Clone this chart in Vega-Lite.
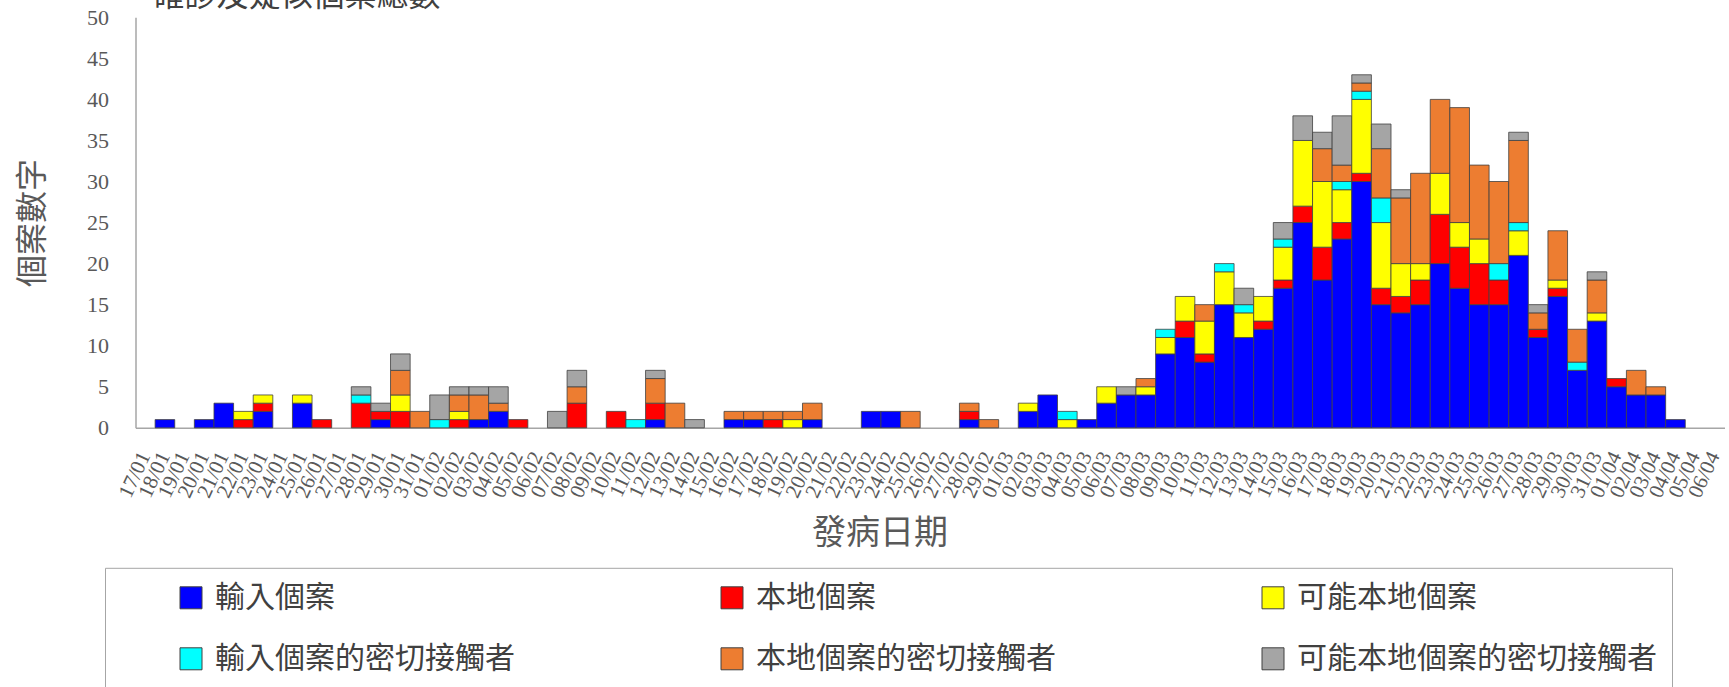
{
  "$schema": "https://vega.github.io/schema/vega-lite/v6.json",
  "autosize": "none",
  "width": 1589,
  "height": 410.5,
  "padding": {"left": 135.5, "top": 17.3, "right": 4.5, "bottom": 259.2},
  "background": "white",
  "title": {"text": "確診及疑似個案總數", "anchor": "start", "frame": "group", "font": "Noto Sans CJK TC", "fontSize": 32, "fontWeight": "normal", "color": "#404040", "baseline": "alphabetic", "offset": -32, "dx": 17},
  "datasets": {
    "cats": [
      {"c": "輸入個案", "k": 1},
      {"c": "本地個案", "k": 2},
      {"c": "可能本地個案", "k": 3},
      {"c": "輸入個案的密切接觸者", "k": 4},
      {"c": "本地個案的密切接觸者", "k": 5},
      {"c": "可能本地個案的密切接觸者", "k": 6}
    ],
    "cases": [
      {"d": "18/01", "c": "輸入個案", "n": 1},
      {"d": "20/01", "c": "輸入個案", "n": 1},
      {"d": "21/01", "c": "輸入個案", "n": 3},
      {"d": "22/01", "c": "本地個案", "n": 1},
      {"d": "22/01", "c": "可能本地個案", "n": 1},
      {"d": "23/01", "c": "輸入個案", "n": 2},
      {"d": "23/01", "c": "本地個案", "n": 1},
      {"d": "23/01", "c": "可能本地個案", "n": 1},
      {"d": "25/01", "c": "輸入個案", "n": 3},
      {"d": "25/01", "c": "可能本地個案", "n": 1},
      {"d": "26/01", "c": "本地個案", "n": 1},
      {"d": "28/01", "c": "本地個案", "n": 3},
      {"d": "28/01", "c": "輸入個案的密切接觸者", "n": 1},
      {"d": "28/01", "c": "可能本地個案的密切接觸者", "n": 1},
      {"d": "29/01", "c": "輸入個案", "n": 1},
      {"d": "29/01", "c": "本地個案", "n": 1},
      {"d": "29/01", "c": "可能本地個案的密切接觸者", "n": 1},
      {"d": "30/01", "c": "本地個案", "n": 2},
      {"d": "30/01", "c": "可能本地個案", "n": 2},
      {"d": "30/01", "c": "本地個案的密切接觸者", "n": 3},
      {"d": "30/01", "c": "可能本地個案的密切接觸者", "n": 2},
      {"d": "31/01", "c": "本地個案的密切接觸者", "n": 2},
      {"d": "01/02", "c": "輸入個案的密切接觸者", "n": 1},
      {"d": "01/02", "c": "可能本地個案的密切接觸者", "n": 3},
      {"d": "02/02", "c": "本地個案", "n": 1},
      {"d": "02/02", "c": "可能本地個案", "n": 1},
      {"d": "02/02", "c": "本地個案的密切接觸者", "n": 2},
      {"d": "02/02", "c": "可能本地個案的密切接觸者", "n": 1},
      {"d": "03/02", "c": "輸入個案", "n": 1},
      {"d": "03/02", "c": "本地個案的密切接觸者", "n": 3},
      {"d": "03/02", "c": "可能本地個案的密切接觸者", "n": 1},
      {"d": "04/02", "c": "輸入個案", "n": 2},
      {"d": "04/02", "c": "本地個案的密切接觸者", "n": 1},
      {"d": "04/02", "c": "可能本地個案的密切接觸者", "n": 2},
      {"d": "05/02", "c": "本地個案", "n": 1},
      {"d": "07/02", "c": "可能本地個案的密切接觸者", "n": 2},
      {"d": "08/02", "c": "本地個案", "n": 3},
      {"d": "08/02", "c": "本地個案的密切接觸者", "n": 2},
      {"d": "08/02", "c": "可能本地個案的密切接觸者", "n": 2},
      {"d": "10/02", "c": "本地個案", "n": 2},
      {"d": "11/02", "c": "輸入個案的密切接觸者", "n": 1},
      {"d": "12/02", "c": "輸入個案", "n": 1},
      {"d": "12/02", "c": "本地個案", "n": 2},
      {"d": "12/02", "c": "本地個案的密切接觸者", "n": 3},
      {"d": "12/02", "c": "可能本地個案的密切接觸者", "n": 1},
      {"d": "13/02", "c": "本地個案的密切接觸者", "n": 3},
      {"d": "14/02", "c": "可能本地個案的密切接觸者", "n": 1},
      {"d": "16/02", "c": "輸入個案", "n": 1},
      {"d": "16/02", "c": "本地個案的密切接觸者", "n": 1},
      {"d": "17/02", "c": "輸入個案", "n": 1},
      {"d": "17/02", "c": "本地個案的密切接觸者", "n": 1},
      {"d": "18/02", "c": "本地個案", "n": 1},
      {"d": "18/02", "c": "本地個案的密切接觸者", "n": 1},
      {"d": "19/02", "c": "可能本地個案", "n": 1},
      {"d": "19/02", "c": "本地個案的密切接觸者", "n": 1},
      {"d": "20/02", "c": "輸入個案", "n": 1},
      {"d": "20/02", "c": "本地個案的密切接觸者", "n": 2},
      {"d": "23/02", "c": "輸入個案", "n": 2},
      {"d": "24/02", "c": "輸入個案", "n": 2},
      {"d": "25/02", "c": "本地個案的密切接觸者", "n": 2},
      {"d": "28/02", "c": "輸入個案", "n": 1},
      {"d": "28/02", "c": "本地個案", "n": 1},
      {"d": "28/02", "c": "本地個案的密切接觸者", "n": 1},
      {"d": "29/02", "c": "本地個案的密切接觸者", "n": 1},
      {"d": "02/03", "c": "輸入個案", "n": 2},
      {"d": "02/03", "c": "可能本地個案", "n": 1},
      {"d": "03/03", "c": "輸入個案", "n": 4},
      {"d": "04/03", "c": "可能本地個案", "n": 1},
      {"d": "04/03", "c": "輸入個案的密切接觸者", "n": 1},
      {"d": "05/03", "c": "輸入個案", "n": 1},
      {"d": "06/03", "c": "輸入個案", "n": 3},
      {"d": "06/03", "c": "可能本地個案", "n": 2},
      {"d": "07/03", "c": "輸入個案", "n": 4},
      {"d": "07/03", "c": "可能本地個案的密切接觸者", "n": 1},
      {"d": "08/03", "c": "輸入個案", "n": 4},
      {"d": "08/03", "c": "可能本地個案", "n": 1},
      {"d": "08/03", "c": "本地個案的密切接觸者", "n": 1},
      {"d": "09/03", "c": "輸入個案", "n": 9},
      {"d": "09/03", "c": "可能本地個案", "n": 2},
      {"d": "09/03", "c": "輸入個案的密切接觸者", "n": 1},
      {"d": "10/03", "c": "輸入個案", "n": 11},
      {"d": "10/03", "c": "本地個案", "n": 2},
      {"d": "10/03", "c": "可能本地個案", "n": 3},
      {"d": "11/03", "c": "輸入個案", "n": 8},
      {"d": "11/03", "c": "本地個案", "n": 1},
      {"d": "11/03", "c": "可能本地個案", "n": 4},
      {"d": "11/03", "c": "本地個案的密切接觸者", "n": 2},
      {"d": "12/03", "c": "輸入個案", "n": 15},
      {"d": "12/03", "c": "可能本地個案", "n": 4},
      {"d": "12/03", "c": "輸入個案的密切接觸者", "n": 1},
      {"d": "13/03", "c": "輸入個案", "n": 11},
      {"d": "13/03", "c": "可能本地個案", "n": 3},
      {"d": "13/03", "c": "輸入個案的密切接觸者", "n": 1},
      {"d": "13/03", "c": "可能本地個案的密切接觸者", "n": 2},
      {"d": "14/03", "c": "輸入個案", "n": 12},
      {"d": "14/03", "c": "本地個案", "n": 1},
      {"d": "14/03", "c": "可能本地個案", "n": 3},
      {"d": "15/03", "c": "輸入個案", "n": 17},
      {"d": "15/03", "c": "本地個案", "n": 1},
      {"d": "15/03", "c": "可能本地個案", "n": 4},
      {"d": "15/03", "c": "輸入個案的密切接觸者", "n": 1},
      {"d": "15/03", "c": "可能本地個案的密切接觸者", "n": 2},
      {"d": "16/03", "c": "輸入個案", "n": 25},
      {"d": "16/03", "c": "本地個案", "n": 2},
      {"d": "16/03", "c": "可能本地個案", "n": 8},
      {"d": "16/03", "c": "可能本地個案的密切接觸者", "n": 3},
      {"d": "17/03", "c": "輸入個案", "n": 18},
      {"d": "17/03", "c": "本地個案", "n": 4},
      {"d": "17/03", "c": "可能本地個案", "n": 8},
      {"d": "17/03", "c": "本地個案的密切接觸者", "n": 4},
      {"d": "17/03", "c": "可能本地個案的密切接觸者", "n": 2},
      {"d": "18/03", "c": "輸入個案", "n": 23},
      {"d": "18/03", "c": "本地個案", "n": 2},
      {"d": "18/03", "c": "可能本地個案", "n": 4},
      {"d": "18/03", "c": "輸入個案的密切接觸者", "n": 1},
      {"d": "18/03", "c": "本地個案的密切接觸者", "n": 2},
      {"d": "18/03", "c": "可能本地個案的密切接觸者", "n": 6},
      {"d": "19/03", "c": "輸入個案", "n": 30},
      {"d": "19/03", "c": "本地個案", "n": 1},
      {"d": "19/03", "c": "可能本地個案", "n": 9},
      {"d": "19/03", "c": "輸入個案的密切接觸者", "n": 1},
      {"d": "19/03", "c": "本地個案的密切接觸者", "n": 1},
      {"d": "19/03", "c": "可能本地個案的密切接觸者", "n": 1},
      {"d": "20/03", "c": "輸入個案", "n": 15},
      {"d": "20/03", "c": "本地個案", "n": 2},
      {"d": "20/03", "c": "可能本地個案", "n": 8},
      {"d": "20/03", "c": "輸入個案的密切接觸者", "n": 3},
      {"d": "20/03", "c": "本地個案的密切接觸者", "n": 6},
      {"d": "20/03", "c": "可能本地個案的密切接觸者", "n": 3},
      {"d": "21/03", "c": "輸入個案", "n": 14},
      {"d": "21/03", "c": "本地個案", "n": 2},
      {"d": "21/03", "c": "可能本地個案", "n": 4},
      {"d": "21/03", "c": "本地個案的密切接觸者", "n": 8},
      {"d": "21/03", "c": "可能本地個案的密切接觸者", "n": 1},
      {"d": "22/03", "c": "輸入個案", "n": 15},
      {"d": "22/03", "c": "本地個案", "n": 3},
      {"d": "22/03", "c": "可能本地個案", "n": 2},
      {"d": "22/03", "c": "本地個案的密切接觸者", "n": 11},
      {"d": "23/03", "c": "輸入個案", "n": 20},
      {"d": "23/03", "c": "本地個案", "n": 6},
      {"d": "23/03", "c": "可能本地個案", "n": 5},
      {"d": "23/03", "c": "本地個案的密切接觸者", "n": 9},
      {"d": "24/03", "c": "輸入個案", "n": 17},
      {"d": "24/03", "c": "本地個案", "n": 5},
      {"d": "24/03", "c": "可能本地個案", "n": 3},
      {"d": "24/03", "c": "本地個案的密切接觸者", "n": 14},
      {"d": "25/03", "c": "輸入個案", "n": 15},
      {"d": "25/03", "c": "本地個案", "n": 5},
      {"d": "25/03", "c": "可能本地個案", "n": 3},
      {"d": "25/03", "c": "本地個案的密切接觸者", "n": 9},
      {"d": "26/03", "c": "輸入個案", "n": 15},
      {"d": "26/03", "c": "本地個案", "n": 3},
      {"d": "26/03", "c": "輸入個案的密切接觸者", "n": 2},
      {"d": "26/03", "c": "本地個案的密切接觸者", "n": 10},
      {"d": "27/03", "c": "輸入個案", "n": 21},
      {"d": "27/03", "c": "可能本地個案", "n": 3},
      {"d": "27/03", "c": "輸入個案的密切接觸者", "n": 1},
      {"d": "27/03", "c": "本地個案的密切接觸者", "n": 10},
      {"d": "27/03", "c": "可能本地個案的密切接觸者", "n": 1},
      {"d": "28/03", "c": "輸入個案", "n": 11},
      {"d": "28/03", "c": "本地個案", "n": 1},
      {"d": "28/03", "c": "本地個案的密切接觸者", "n": 2},
      {"d": "28/03", "c": "可能本地個案的密切接觸者", "n": 1},
      {"d": "29/03", "c": "輸入個案", "n": 16},
      {"d": "29/03", "c": "本地個案", "n": 1},
      {"d": "29/03", "c": "可能本地個案", "n": 1},
      {"d": "29/03", "c": "本地個案的密切接觸者", "n": 6},
      {"d": "30/03", "c": "輸入個案", "n": 7},
      {"d": "30/03", "c": "輸入個案的密切接觸者", "n": 1},
      {"d": "30/03", "c": "本地個案的密切接觸者", "n": 4},
      {"d": "31/03", "c": "輸入個案", "n": 13},
      {"d": "31/03", "c": "可能本地個案", "n": 1},
      {"d": "31/03", "c": "本地個案的密切接觸者", "n": 4},
      {"d": "31/03", "c": "可能本地個案的密切接觸者", "n": 1},
      {"d": "01/04", "c": "輸入個案", "n": 5},
      {"d": "01/04", "c": "本地個案", "n": 1},
      {"d": "02/04", "c": "輸入個案", "n": 4},
      {"d": "02/04", "c": "本地個案的密切接觸者", "n": 3},
      {"d": "03/04", "c": "輸入個案", "n": 4},
      {"d": "03/04", "c": "本地個案的密切接觸者", "n": 1},
      {"d": "04/04", "c": "輸入個案", "n": 1}
    ]
  },
  "data": {"name": "cases"},
  "transform": [
    {"lookup": "c", "from": {"data": {"name": "cats"}, "key": "c", "fields": ["k"]}}
  ],
  "mark": {"type": "bar", "stroke": "#404040", "strokeWidth": 0.8},
  "encoding": {
    "x": {
      "field": "d",
      "type": "ordinal",
      "title": "發病日期",
      "scale": {
        "domain": ["17/01","18/01","19/01","20/01","21/01","22/01","23/01","24/01","25/01","26/01","27/01","28/01","29/01","30/01","31/01",
          "01/02","02/02","03/02","04/02","05/02","06/02","07/02","08/02","09/02","10/02","11/02","12/02","13/02","14/02","15/02","16/02","17/02","18/02","19/02","20/02","21/02","22/02","23/02","24/02","25/02","26/02","27/02","28/02","29/02",
          "01/03","02/03","03/03","04/03","05/03","06/03","07/03","08/03","09/03","10/03","11/03","12/03","13/03","14/03","15/03","16/03","17/03","18/03","19/03","20/03","21/03","22/03","23/03","24/03","25/03","26/03","27/03","28/03","29/03","30/03","31/03",
          "01/04","02/04","03/04","04/04","05/04","06/04"],
        "paddingInner": 0,
        "paddingOuter": 0
      },
      "axis": {
        "labelAngle": -65,
        "labelFont": "Liberation Serif",
        "labelFontSize": 21,
        "labelColor": "#595959",
        "labelPadding": 25,
        "labelOverlap": false,
        "ticks": false,
        "domainColor": "#a6a6a6",
        "domainWidth": 1.5,
        "titleFont": "Noto Sans CJK TC",
        "titleFontSize": 34,
        "titleFontWeight": "normal",
        "titleColor": "#595959",
        "titleX": 744,
        "titleY": 106,
        "titleAlign": "center",
        "titleBaseline": "middle"
      }
    },
    "y": {
      "field": "n",
      "type": "quantitative",
      "stack": "zero",
      "title": "個案數字",
      "scale": {"domain": [0, 50], "nice": false},
      "axis": {
        "values": [0, 5, 10, 15, 20, 25, 30, 35, 40, 45, 50],
        "grid": false,
        "ticks": false,
        "labelFont": "Liberation Serif",
        "labelFontSize": 22,
        "labelColor": "#595959",
        "labelPadding": 27,
        "domainColor": "#a6a6a6",
        "domainWidth": 1.5,
        "titleFont": "Noto Sans CJK TC",
        "titleFontSize": 32,
        "titleFontWeight": "normal",
        "titleColor": "#595959",
        "titlePadding": 37
      }
    },
    "color": {
      "field": "c",
      "type": "nominal",
      "title": null,
      "scale": {
        "domain": ["輸入個案", "本地個案", "可能本地個案", "輸入個案的密切接觸者", "本地個案的密切接觸者", "可能本地個案的密切接觸者"],
        "range": ["#0000ff", "#ff0000", "#ffff00", "#00ffff", "#ed7d31", "#a5a5a5"]
      },
      "legend": {
        "orient": "none",
        "legendX": -30.5,
        "legendY": 550.5,
        "direction": "horizontal",
        "columns": 3,
        "gridAlign": "all",
        "columnPadding": 86,
        "rowPadding": 31,
        "padding": 15,
        "strokeColor": "#a6a6a6",
        "fillColor": "white",
        "symbolType": "square",
        "symbolSize": 484,
        "symbolStrokeColor": "#404040",
        "symbolStrokeWidth": 1,
        "symbolOpacity": 1,
        "symbolOffset": 56,
        "labelFont": "Noto Sans CJK TC",
        "labelFontSize": 30,
        "labelColor": "#404040",
        "labelOffset": 9,
        "labelLimit": 800
      }
    },
    "order": {"field": "k", "type": "quantitative", "sort": "ascending"}
  },
  "config": {
    "view": {"stroke": null},
    "axis": {"grid": false}
  }
}
